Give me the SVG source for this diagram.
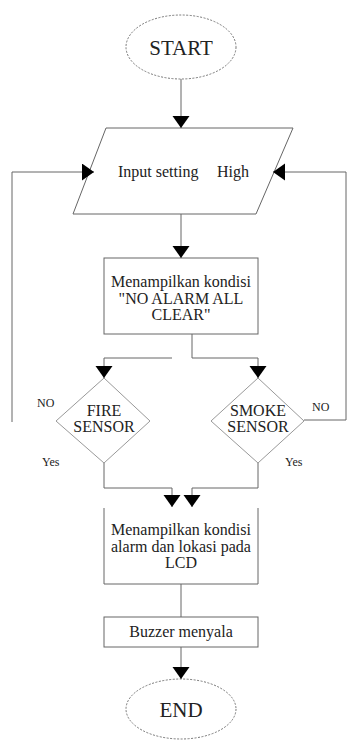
<svg xmlns="http://www.w3.org/2000/svg" width="347" height="740" viewBox="0 0 347 740">
<style>
  text { font-family: "Liberation Serif", "Times New Roman", serif; fill: #222; }
  .t16 { font-size: 16px; text-anchor: middle; }
  .big { font-size: 21px; text-anchor: middle; }
  .lbl { font-size: 12px; }
  .box { fill: #fff; stroke: #666; stroke-width: 1; }
  .dia { fill: #fff; stroke: #999; stroke-width: 1; }
  .term { fill: #fff; stroke: #777; stroke-width: 1; stroke-dasharray: 2 1.5; }
  .conn path { fill: none; stroke: #666; stroke-width: 1; }
</style>
<defs>
  <marker id="ah" markerUnits="userSpaceOnUse" markerWidth="14" markerHeight="18" refX="12" refY="8.5" orient="auto">
    <path d="M0,0 L12,8.5 L0,17 z" fill="#000"/>
  </marker>
</defs>
<rect width="347" height="740" fill="#fff"/>

<g id="start">
  <ellipse class="term" cx="181" cy="47" rx="55" ry="32"/>
  <text class="big" x="181" y="55">START</text>
</g>

<g id="input">
  <polygon class="box" points="106,128 293,128 256,214 73,214"/>
  <text x="118" y="177" style="font-size:16px">Input setting<tspan x="217">High</tspan></text>
</g>

<g id="noalarm">
  <rect class="box" x="104" y="258" width="154" height="76"/>
  <text class="t16" x="181" y="287">Menampilkan kondisi</text>
  <text class="t16" x="181" y="304">"NO ALARM ALL</text>
  <text class="t16" x="181" y="320">CLEAR"</text>
</g>

<g id="fire">
  <polygon class="dia" points="104,378 150,421 104,463 56,421"/>
  <text class="t16" x="104" y="416">FIRE</text>
  <text class="t16" x="104" y="432">SENSOR</text>
</g>

<g id="smoke">
  <polygon class="dia" points="258,378 304,421 258,463 211,421"/>
  <text class="t16" x="258" y="416">SMOKE</text>
  <text class="t16" x="258" y="432">SENSOR</text>
</g>

<g id="alarm">
  <path class="box" d="M104,508 V584 H258 V508" />
  <text class="t16" x="181" y="535">Menampilkan kondisi</text>
  <text class="t16" x="181" y="552">alarm dan lokasi pada</text>
  <text class="t16" x="181" y="568">LCD</text>
</g>

<g id="buzzer">
  <rect class="box" x="104" y="617" width="154" height="30"/>
  <text class="t16" x="181" y="637">Buzzer menyala</text>
</g>

<g id="end">
  <ellipse class="term" cx="181" cy="709" rx="55" ry="30"/>
  <text class="big" x="181" y="717">END</text>
</g>

<g id="connectors" class="conn">
  <path d="M181,79 V128" marker-end="url(#ah)"/>
  <path d="M181,214 V258" marker-end="url(#ah)"/>
  <path d="M12,422 V172 H94" marker-end="url(#ah)"/>
  <path d="M304,420 H346 V172 H273" marker-end="url(#ah)"/>
  <path d="M192,334 V358 H258 V378" marker-end="url(#ah)"/>
  <path d="M172,358 H104 V378" marker-end="url(#ah)"/>
  <path d="M104,463 V488 H172 V507" marker-end="url(#ah)"/>
  <path d="M258,463 V488 H192 V507" marker-end="url(#ah)"/>
  <path d="M181,584 V617"/>
  <path d="M181,647 V679" marker-end="url(#ah)"/>
</g>

<g id="labels">
  <text class="lbl" x="37" y="407">NO</text>
  <text class="lbl" x="312" y="411">NO</text>
  <text class="lbl" x="42" y="466">Yes</text>
  <text class="lbl" x="285" y="466">Yes</text>
</g>
</svg>
